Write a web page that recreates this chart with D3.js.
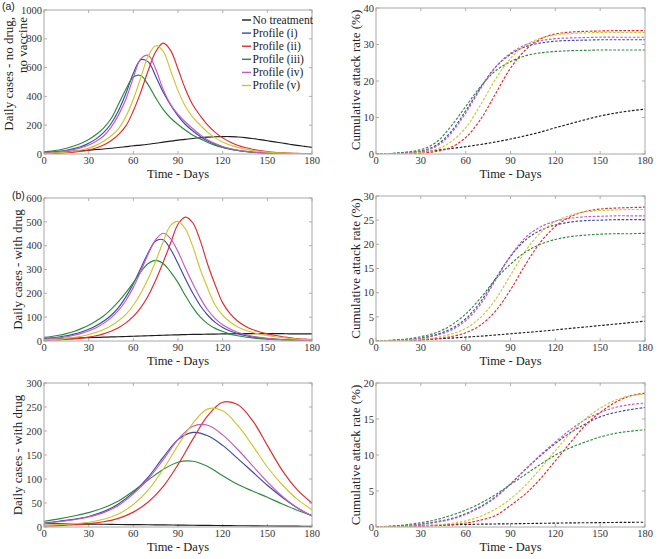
<!DOCTYPE html>
<html><head><meta charset="utf-8">
<script src="https://cdn.jsdelivr.net/npm/d3@7"></script>
<style>body{margin:0;background:#fff} svg{display:block}</style>
</head><body><svg id="chart" width="659" height="559"></svg>
<script>
// ---------- DATA ----------
const seriesNames = ["No treatment","Profile (i)","Profile (ii)","Profile (iii)","Profile (iv)","Profile (v)"];
const xTicks = [0,30,60,90,120,150,180];
const days5 = [0,5,10,15,20,25,30,35,40,45,50,55,60,65,70,75,80,85,90,95,100,105,110,115,120,125,130,135,140,145,150,155,160,165,170,175,180];
const days10 = [0,10,20,30,40,50,60,70,80,90,100,110,120,130,140,150,160,170,180];

// (a) daily cases - no drug, no vaccine (days5)
const aNoTreat = [10,12,14,17,20,23,27,31,35,40,45,51,57,62,68,75,82,89,96,102,108,113,117,120,121,121,118,114,108,100,92,84,76,68,60,53,46];
const aProf1 = [8,12,18,26,37,52,75,105,148,210,300,420,560,655,640,540,430,340,265,205,160,122,90,66,48,35,25,18,13,9,6,4,3,2,1,1,1];
const aProf2 = [3,4,6,9,13,19,28,42,62,92,135,195,300,430,580,710,770,720,590,450,340,265,200,150,112,83,61,45,33,24,17,12,9,6,4,3,2];
const aProf3 = [15,20,28,40,55,75,100,135,180,245,345,450,535,545,480,390,310,250,205,165,130,105,80,60,45,33,24,17,12,9,6,4,3,2,2,1,1];
const aProf4 = [7,10,15,22,31,44,62,88,125,185,270,380,530,660,685,590,450,345,275,222,175,133,98,72,52,38,27,19,14,10,7,5,3,2,2,1,1];
const aProf5 = [4,6,9,13,19,28,41,60,88,125,175,260,380,530,680,752,715,580,440,330,255,200,150,112,84,62,46,34,25,18,13,9,7,5,3,2,2];

// (a) cumulative attack rate % (days10)
const acNoTreat = [0,0.1,0.3,0.6,1.0,1.5,2.0,2.6,3.3,4.1,5.0,6.0,7.2,8.3,9.4,10.4,11.2,11.8,12.3];
const acProf1 = [0,0.1,0.35,0.85,2.3,6.0,11.8,18.2,23.8,27.3,29.4,30.4,30.9,31.1,31.2,31.3,31.3,31.3,31.3];
const acProf2 = [0,0.03,0.1,0.25,0.7,1.8,4.5,9.5,16.5,23.5,28.5,31.5,32.9,33.4,33.6,33.7,33.8,33.8,33.8];
const acProf3 = [0,0.15,0.5,1.2,3.1,7.5,13.0,18.5,22.8,25.3,26.9,27.7,28.1,28.3,28.4,28.5,28.5,28.5,28.5];
const acProf4 = [0,0.1,0.3,0.75,2.0,5.5,11.2,17.9,23.8,27.6,29.9,31.0,31.6,31.8,31.9,32.0,32.0,32.0,32.0];
const acProf5 = [0,0.05,0.15,0.45,1.2,3.3,7.2,13.5,20.5,26.2,29.8,31.7,32.6,33.0,33.2,33.3,33.3,33.3,33.3];

// (b) daily cases - with drug (days5)
const bNoTreat = [8,9,10,11,12,13,14,15,16,17,18,19,20,21,22,23,24,25,26,27,28,28,29,29,30,30,31,31,31,31,31,31,31,30,30,30,30];
const bProf1 = [10,13,17,22,29,38,49,64,83,107,140,185,240,305,370,420,425,385,325,260,200,148,108,78,57,42,31,23,17,13,10,8,6,5,4,3,3];
const bProf2 = [3,4,5,7,9,12,16,22,30,41,56,76,103,140,190,255,330,410,490,520,495,420,320,235,160,115,84,63,48,38,30,24,18,14,10,8,6];
const bProf3 = [15,19,24,31,40,52,66,84,105,133,165,203,245,290,325,338,325,290,245,190,140,100,72,53,40,29,22,17,13,10,8,6,5,4,3,3,2];
const bProf4 = [8,10,13,18,24,32,42,56,74,97,128,170,225,292,365,425,452,430,375,305,240,180,130,94,68,50,37,27,20,15,11,8,6,5,4,3,3];
const bProf5 = [5,6,8,11,15,20,27,36,48,64,85,112,150,200,262,335,415,485,502,470,395,300,220,150,108,80,60,46,36,29,23,18,14,11,8,6,5];

// (b) cumulative attack rate % (days10)
const bcNoTreat = [0,0.1,0.2,0.3,0.45,0.6,0.8,1.0,1.25,1.5,1.75,2.0,2.3,2.6,2.9,3.2,3.5,3.8,4.1];
const bcProf1 = [0,0.1,0.3,0.6,1.3,2.5,4.6,8.1,12.9,17.5,20.9,22.9,24.0,24.6,24.9,25.0,25.1,25.1,25.1];
const bcProf2 = [0,0.03,0.1,0.2,0.45,0.9,1.7,3.3,6.2,10.6,15.8,20.4,23.7,25.7,26.8,27.3,27.5,27.6,27.7];
const bcProf3 = [0,0.15,0.4,0.9,1.7,3.2,5.6,8.9,12.8,15.9,18.4,20.0,21.0,21.6,21.9,22.1,22.2,22.2,22.3];
const bcProf4 = [0,0.1,0.25,0.55,1.15,2.2,4.2,7.6,12.6,17.6,21.4,23.6,24.8,25.4,25.7,25.8,25.9,25.9,25.9];
const bcProf5 = [0,0.05,0.15,0.35,0.7,1.4,2.6,4.9,8.6,13.6,18.6,22.4,24.7,26.0,26.7,27.0,27.1,27.2,27.2];

// (c) daily cases - with drug (days10)
const cNoTreat = [7,6.7,6.3,6,5.7,5.3,5,4.7,4.3,4,3.7,3.3,3,2.7,2.4,2.1,1.9,1.7,1.5];
const cProf1 = [8,12,16,22,32,48,72,104,145,182,197,190,170,143,115,87,62,40,23];
const cProf2 = [2,3,5,7,11,18,31,52,84,130,183,232,260,255,222,170,118,78,50];
const cProf3 = [12,17,23,30,40,54,75,98,120,135,137,126,107,89,75,62,48,35,24];
const cProf4 = [7,11,15,21,30,45,69,100,140,182,210,212,192,162,128,94,64,40,23];
const cProf5 = [3.5,5,7,10,16,27,47,77,120,170,216,246,242,212,170,125,88,58,36];

// (c) cumulative attack rate % (days10)
const ccNoTreat = [0,0.07,0.14,0.2,0.25,0.3,0.35,0.39,0.42,0.45,0.48,0.51,0.54,0.57,0.59,0.61,0.63,0.65,0.66];
const ccProf1 = [0,0.08,0.2,0.4,0.7,1.15,1.85,2.85,4.2,6.0,8.0,9.9,11.6,13.1,14.3,15.3,15.9,16.3,16.6];
const ccProf2 = [0,0.02,0.05,0.1,0.2,0.33,0.55,0.95,1.6,3.0,4.6,6.7,9.2,11.7,14.1,15.9,17.3,18.2,18.6];
const ccProf3 = [0,0.12,0.3,0.6,1.0,1.6,2.35,3.3,4.5,5.9,7.3,8.7,10.0,11.0,11.8,12.5,13.0,13.3,13.5];
const ccProf4 = [0,0.07,0.18,0.36,0.65,1.05,1.75,2.75,4.1,5.95,8.0,10.0,11.8,13.5,14.9,15.9,16.6,17.0,17.2];
const ccProf5 = [0,0.03,0.08,0.17,0.3,0.5,0.85,1.5,2.5,3.9,5.8,8.1,10.6,13.0,15.0,16.5,17.6,18.2,18.5];

const yTicksA = [0,200,400,600,800,1000];
const yTicksAc = [0,10,20,30,40];
const yTicksB = [0,100,200,300,400,500,600];
const yTicksBc = [0,5,10,15,20,25,30];
const yTicksC = [0,50,100,150,200,250,300];
const yTicksCc = [0,5,10,15,20];

// ---------- STYLE ----------
const colors = ["#1c1c1c","#3a48a6","#e4282c","#2b8a3c","#c25ac4","#cfc432"];
const SERIF = '"Liberation Serif","Times New Roman",Times,serif';
const SANS = '"Liberation Sans",Arial,Helvetica,sans-serif';

const svg = d3.select("#chart");
svg.append("rect").attr("width",659).attr("height",559).attr("fill","#fff");

let clipId = 0;
function panel(cfg){
  const x = d3.scaleLinear().domain([0,180]).range([cfg.x0,cfg.x1]);
  const y = d3.scaleLinear().domain([0,cfg.ymax]).range([cfg.y1,cfg.y0]);
  const g = svg.append("g");
  const id = "clip"+(clipId++);
  g.append("clipPath").attr("id",id).append("rect")
    .attr("x",cfg.x0).attr("y",cfg.y0).attr("width",cfg.x1-cfg.x0).attr("height",cfg.y1-cfg.y0);

  // ticks (inner, all four sides)
  const tk = g.append("g").attr("stroke","#9a9a9a").attr("stroke-width",0.8);
  xTicks.forEach(t=>{
    tk.append("line").attr("x1",x(t)).attr("x2",x(t)).attr("y1",cfg.y1).attr("y2",cfg.y1-3);
    tk.append("line").attr("x1",x(t)).attr("x2",x(t)).attr("y1",cfg.y0).attr("y2",cfg.y0+3);
  });
  cfg.yticks.forEach(t=>{
    tk.append("line").attr("x1",cfg.x0).attr("x2",cfg.x0+3).attr("y1",y(t)).attr("y2",y(t));
    tk.append("line").attr("x1",cfg.x1).attr("x2",cfg.x1-3).attr("y1",y(t)).attr("y2",y(t));
  });

  // tick labels
  const tl = g.append("g").style("font-family",SERIF).attr("font-size",10.5).attr("fill","#333");
  xTicks.forEach(t=>{
    tl.append("text").attr("x",x(t)).attr("y",cfg.y1+10).attr("text-anchor","middle").text(t);
  });
  cfg.yticks.forEach(t=>{
    tl.append("text").attr("x",cfg.x0-2).attr("y",y(t)).attr("dy","0.35em").attr("text-anchor","end").text(t);
  });

  // lines
  const line = d3.line().x((d,i)=>x(cfg.days[i])).y(d=>y(d)).curve(d3.curveCatmullRom.alpha(0.5));
  const lg = g.append("g").attr("clip-path",`url(#${id})`);
  cfg.series.forEach((s,i)=>{
    const p = lg.append("path").attr("d",line(s)).attr("fill","none")
      .attr("stroke",colors[i]).attr("stroke-width",1.15);
    if(cfg.dashed) p.attr("stroke-dasharray","2.6,1.6");
  });

  // frame
  g.append("rect").attr("x",cfg.x0).attr("y",cfg.y0).attr("width",cfg.x1-cfg.x0).attr("height",cfg.y1-cfg.y0)
    .attr("fill","none").attr("stroke","#a8a8a8").attr("stroke-width",1);

  // axis titles
  g.append("text").attr("x",(cfg.x0+cfg.x1)/2).attr("y",cfg.y1+24).attr("text-anchor","middle")
    .style("font-family",SERIF).attr("font-size",12.5).attr("fill","#222").text("Time - Days");
  cfg.ylabel.forEach(l=>{
    g.append("text").attr("transform",`translate(${l.x},${l.y}) rotate(-90)`)
      .attr("text-anchor",l.anchor).style("font-family",SERIF).attr("font-size",13).attr("fill","#222").text(l.text);
  });
  return {x,y,g};
}

panel({x0:44,x1:312,y0:10,y1:154,ymax:1000,yticks:yTicksA,days:days5,
  series:[aNoTreat,aProf1,aProf2,aProf3,aProf4,aProf5],dashed:false,
  ylabel:[{text:"Daily cases - no drug,",x:13,y:17,anchor:"end"},{text:"no vaccine",x:27,y:17,anchor:"end"}]});
panel({x0:376,x1:645,y0:8,y1:154,ymax:40,yticks:yTicksAc,days:days10,
  series:[acNoTreat,acProf1,acProf2,acProf3,acProf4,acProf5],dashed:true,
  ylabel:[{text:"Cumulative attack rate (%)",x:360,y:80,anchor:"middle"}]});
panel({x0:44,x1:312,y0:198,y1:341,ymax:600,yticks:yTicksB,days:days5,
  series:[bNoTreat,bProf1,bProf2,bProf3,bProf4,bProf5],dashed:false,
  ylabel:[{text:"Daily cases - with drug",x:22,y:269.5,anchor:"middle"}]});
panel({x0:376,x1:645,y0:196,y1:341,ymax:30,yticks:yTicksBc,days:days10,
  series:[bcNoTreat,bcProf1,bcProf2,bcProf3,bcProf4,bcProf5],dashed:true,
  ylabel:[{text:"Cumulative attack rate (%)",x:360,y:268.5,anchor:"middle"}]});
panel({x0:44,x1:312,y0:383,y1:527,ymax:300,yticks:yTicksC,days:days10,
  series:[cNoTreat,cProf1,cProf2,cProf3,cProf4,cProf5],dashed:false,
  ylabel:[{text:"Daily cases - with drug",x:22,y:455,anchor:"middle"}]});
panel({x0:376,x1:645,y0:383,y1:527,ymax:20,yticks:yTicksCc,days:days10,
  series:[ccNoTreat,ccProf1,ccProf2,ccProf3,ccProf4,ccProf5],dashed:true,
  ylabel:[{text:"Cumulative attack rate (%)",x:360,y:455,anchor:"middle"}]});

// legend (panel a)
const leg = svg.append("g");
seriesNames.forEach((n,i)=>{
  const cy = 20 + i*13.1;
  leg.append("line").attr("x1",242).attr("x2",251).attr("y1",cy).attr("y2",cy)
    .attr("stroke",colors[i]).attr("stroke-width",1.4);
  leg.append("text").attr("x",252.5).attr("y",cy).attr("dy","0.33em")
    .style("font-family",SERIF).attr("font-size",11.5).attr("fill","#222").text(n);
});

// panel letters
svg.append("text").attr("x",2).attr("y",10).style("font-family",SANS).attr("font-size",10.5).attr("fill","#222").text("(a)");
svg.append("text").attr("x",12).attr("y",199).style("font-family",SANS).attr("font-size",10.5).attr("fill","#222").text("(b)");
</script></body></html>
